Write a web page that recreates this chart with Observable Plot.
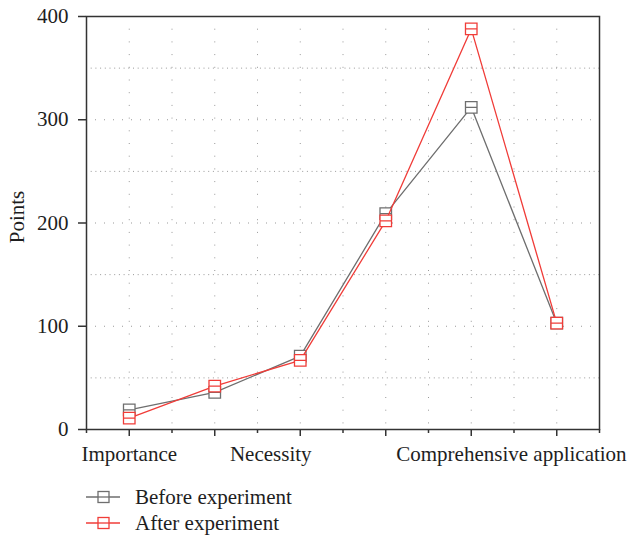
<!DOCTYPE html>
<html>
<head>
<meta charset="utf-8">
<script src="https://cdn.jsdelivr.net/npm/d3@7"></script>
<script src="https://cdn.jsdelivr.net/npm/@observablehq/plot@0.6"></script>
<style>
  html, body { margin: 0; padding: 0; background: #fff; }
  body { width: 629px; height: 539px; overflow: hidden; font-family: "Liberation Serif", "DejaVu Serif", serif; }
  #legend { position: relative; height: 69px; }
  .row { position: absolute; left: 84px; height: 26px; display: flex; align-items: center; font-size: 21px; color: #1e1e1e; }
  .row svg { margin-right: 13px; }
</style>
</head>
<body>
<div id="chart"></div>
<div id="legend"></div>
<script>
// ---- data ----
const xPositions = [1, 3, 5, 7, 9, 11];
const beforeValues = [19, 36, 71, 209, 312, 103];
const afterValues = [11, 42, 67, 202, 388, 103];
const seriesNames = ["Before experiment", "After experiment"];
const seriesColors = ["#6e6e6e", "#f03c38"];
const xLabelTexts = ["Importance", "Necessity", "Comprehensive application"];
const xLabelPositions = [1, 4.31, 9.94];
const yTicks = [0, 100, 200, 300, 400];
const yGridMajor = [100, 200, 300];
const yGridMinor = [50, 150, 250, 350];
const xMajorTicks = [1, 3, 5, 7, 9, 11];
const xMinorTicks = [0, 2, 4, 6, 8, 10, 12];
const xGrid = [1, 2, 3, 4, 5, 6, 7, 8, 9, 10, 11];

const before = xPositions.map((x, i) => ({x, y: beforeValues[i]}));
const after = xPositions.map((x, i) => ({x, y: afterValues[i]}));
const xLabels = xLabelTexts.map((t, i) => ({x: xLabelPositions[i], t}));

// square with a horizontal bar through the middle
const squareBar = {
  draw(ctx, size) {
    const w = Math.sqrt(size) / 2;
    ctx.moveTo(-w, -w); ctx.lineTo(w, -w); ctx.lineTo(w, w); ctx.lineTo(-w, w); ctx.closePath();
    ctx.moveTo(-w, 0); ctx.lineTo(w, 0);
  }
};

const font = "Liberation Serif, DejaVu Serif, serif";
const axisColor = "#333";
const textColor = "#1e1e1e";

const plot = Plot.plot({
  width: 629,
  height: 470,
  marginLeft: 86,
  marginRight: 30,
  marginTop: 16,
  marginBottom: 41,
  style: {fontFamily: font, fontSize: "21px", color: textColor, background: "#fff"},
  x: {domain: [0, 12], axis: null},
  y: {domain: [0, 400], axis: null},
  marks: [
    Plot.gridX(xGrid, {stroke: "#999", strokeOpacity: 1, strokeDasharray: "1 11.7"}),
    Plot.gridY(yGridMajor, {stroke: "#999", strokeOpacity: 1, strokeDasharray: "1 8"}),
    Plot.gridY(yGridMinor, {stroke: "#999", strokeOpacity: 1, strokeDasharray: "1 3.7"}),
    Plot.frame({stroke: axisColor, strokeWidth: 1.5}),
    Plot.axisY(yTicks, {tickSize: 8, tickPadding: 10, stroke: axisColor, strokeWidth: 1.5, fill: textColor, fontSize: 21, label: null}),
    Plot.axisX(xMajorTicks, {tickSize: 7, tickFormat: () => "", stroke: axisColor, strokeWidth: 1.5, label: null}),
    Plot.axisX(xMinorTicks, {tickSize: 4, tickFormat: () => "", stroke: axisColor, strokeWidth: 1.5, label: null}),
    Plot.text(xLabels, {x: "x", y: () => 0, text: "t", dy: 31, lineAnchor: "bottom", textAnchor: "middle", fill: textColor, fontSize: 21}),
    Plot.text(["Points"], {frameAnchor: "left", text: d => d, rotate: -90, dx: -63, dy: -6, lineAnchor: "bottom", textAnchor: "middle", fill: textColor, fontSize: 21}),
    Plot.line(before, {x: "x", y: "y", stroke: seriesColors[0], strokeWidth: 1.3}),
    Plot.dot(before, {x: "x", y: "y", symbol: squareBar, r: 6.5, stroke: seriesColors[0], fill: "white", strokeWidth: 1.3}),
    Plot.line(after, {x: "x", y: "y", stroke: seriesColors[1], strokeWidth: 1.3}),
    Plot.dot(after, {x: "x", y: "y", symbol: squareBar, r: 6.5, stroke: seriesColors[1], fill: "white", strokeWidth: 1.3})
  ]
});
document.getElementById("chart").appendChild(plot);

// legend
const legend = document.getElementById("legend");
seriesNames.forEach((name, i) => {
  const row = document.createElement("div");
  row.className = "row";
  row.style.top = (14 + i * 26) + "px";
  const c = seriesColors[i];
  row.innerHTML = `<svg width="38" height="26" viewBox="0 0 38 26">
    <line x1="2" y1="13" x2="36" y2="13" stroke="${c}" stroke-width="1.3"/>
    <rect x="14" y="7.5" width="11" height="11" fill="white" stroke="${c}" stroke-width="1.3"/>
    <line x1="14" y1="13" x2="25" y2="13" stroke="${c}" stroke-width="1.3"/>
  </svg><span>${name}</span>`;
  legend.appendChild(row);
});
</script>
</body>
</html>
